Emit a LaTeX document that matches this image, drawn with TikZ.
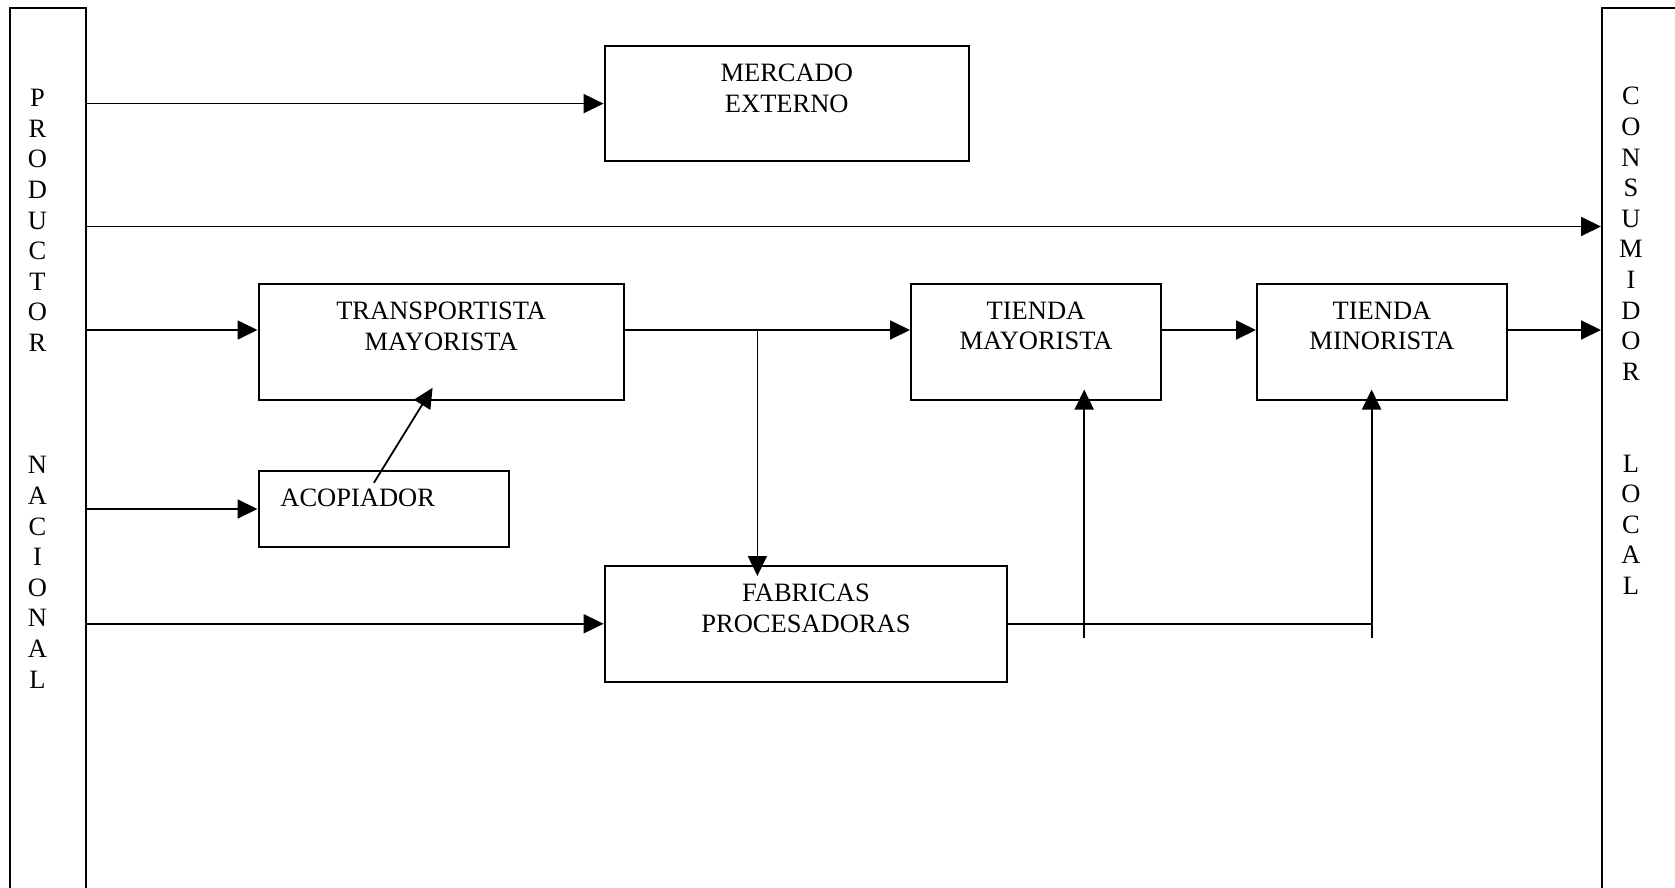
\documentclass[tikz,border=0pt]{standalone}
\usepackage{fontspec}
\setmainfont{Liberation Serif}
\usetikzlibrary{arrows.meta,fit,calc}
\begin{document}
\begin{tikzpicture}[x=0.5pt,y=-0.5pt,
  box/.style={draw, line width=1pt, inner sep=0pt},
  lbl/.style={inner sep=0pt, align=center, font=\fontsize{13.25}{15.3}\selectfont, anchor=north},
  arr/.style={line width=0.9pt, -{Triangle[length=10pt,width=9.5pt]}},
  ln/.style={line width=0.9pt}]
\useasboundingbox (0,0) rectangle (1675,888);
\clip (0,0) rectangle (1675,888);
% side bars
\node[box, fit={(9.6,8.5) (86,900)}] (prod) {};
\node[box, fit={(1602,8.5) (1720,900)}] (cons) {};
\node[lbl] (prodtxt) at (37.5,89) {P\\R\\O\\D\\U\\C\\T\\O\\R\\\mbox{}\\\mbox{}\\\mbox{}\\N\\A\\C\\I\\O\\N\\A\\L};
\node[lbl] (constxt) at (1631,87) {C\\O\\N\\S\\U\\M\\I\\D\\O\\R\\\mbox{}\\\mbox{}\\L\\O\\C\\A\\L};
% boxes
\node[box, fit={(604.6,45.9) (968.9,161.3)}] (mer) {};
\node[box, fit={(258.5,284) (623.8,399.5)}] (trans) {};
\node[box, fit={(258.5,470.7) (508.5,547.3)}] (acop) {};
\node[box, fit={(911,284) (1161,399.5)}] (tmay) {};
\node[box, fit={(1257,284) (1507,399.5)}] (tmin) {};
\node[box, fit={(604.6,566) (1007.3,681.5)}] (fabr) {};
% labels
\node[lbl] (mertxt) at ($(mer.north)+(0,19)$) {MERCADO\\EXTERNO};
\node[lbl] (transtxt) at ($(trans.north)+(0,18.5)$) {TRANSPORTISTA\\MAYORISTA};
\node[lbl, anchor=north west] (acoptxt) at (280,489) {ACOPIADOR};
\node[lbl] (tmaytxt) at ($(tmay.north)+(0,18.5)$) {TIENDA\\MAYORISTA};
\node[lbl] (tmintxt) at ($(tmin.north)+(0,18.5)$) {TIENDA\\MINORISTA};
\node[lbl] (fabrtxt) at ($(fabr.north)+(0,18.5)$) {FABRICAS\\PROCESADORAS};
% helper coordinates
\coordinate (r2) at (0,226.5);
\coordinate (r3) at (0,330);
\coordinate (bx) at (757.4,0);
\coordinate (u1) at (1084.2,637.7);
\coordinate (u2) at (1371.6,637.7);
\coordinate (aS) at (373.9,482.8);
\coordinate (aE) at (432.6,387.8);
% connectors
\draw[arr] (prod.east |- mer.west) -- (mer.west);
\draw[arr] (prod.east |- r2) -- (cons.west |- r2);
\draw[arr] (prod.east |- r3) -- (trans.west |- r3);
\draw[arr] (prod.east |- acop.west) -- (acop.west);
\draw[arr] (prod.east |- fabr.west) -- (fabr.west);
\draw[arr] (trans.east |- r3) -- (tmay.west |- r3);
\draw[arr] (bx |- r3) -- ($(bx |- fabr.north)+(0,11)$);
\draw[arr] (tmay.east |- r3) -- (tmin.west |- r3);
\draw[arr] (tmin.east |- r3) -- (cons.west |- r3);
\draw[ln] (fabr.east) -- (u2 |- fabr.east);
\draw[arr] (u1) -- ($(u1 |- tmay.south)+(0,-11)$);
\draw[arr] (u2) -- ($(u2 |- tmin.south)+(0,-11)$);
\draw[arr] (aS) -- (aE);
\end{tikzpicture}
\end{document}
